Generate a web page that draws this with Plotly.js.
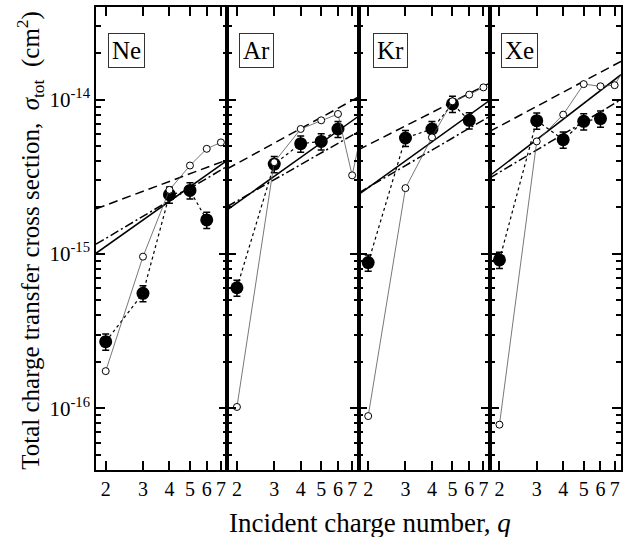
<!DOCTYPE html>
<html>
<head>
<meta charset="utf-8">
<script src="https://cdn.plot.ly/plotly-3.0.1.min.js"></script>
<style>html,body{margin:0;padding:0;background:#fff;}#chart{width:630px;height:537px;}</style>
</head>
<body>
<div id="chart"></div>
<script>
// ---- Data ----
const panels = ["Ne", "Ar", "Kr", "Xe"];
const qFilled = [2, 3, 4, 5, 6];
const qOpen = [2, 3, 4, 5, 6, 7, 8];
const qFit = [1.8, 7.5];

const neFilled = [2.70e-16, 5.56e-16, 2.42e-15, 2.58e-15, 1.66e-15];
const arFilled = [6.04e-16, 3.82e-15, 5.18e-15, 5.36e-15, 6.45e-15];
const krFilled = [8.79e-16, 5.64e-15, 6.45e-15, 9.37e-15, 7.34e-15];
const xeFilled = [9.14e-16, 7.30e-15, 5.50e-15, 7.23e-15, 7.53e-15];

const neOpen = [1.74e-16, 9.6e-16, 2.60e-15, 3.74e-15, 4.80e-15, 5.28e-15, 4.5e-15];
const arOpen = [1.02e-16, 3.93e-15, 6.45e-15, 7.34e-15, 8.07e-15, 3.23e-15, 7.6e-15];
const krOpen = [8.9e-17, 2.67e-15, 5.69e-15, 9.75e-15, 1.077e-14, 1.20e-14, null];
const xeOpen = [7.83e-17, 5.36e-15, 7.99e-15, 1.26e-14, 1.22e-14, 1.24e-14, 1.7e-14];

const neSolid = [1.01e-15, 4.04e-15], neDash = [1.96e-15, 4.07e-15], neDashDot = [1.156e-15, 3.70e-15];
const arSolid = [1.93e-15, 7.80e-15], arDash = [3.56e-15, 1.04e-14], arDashDot = [2.03e-15, 6.20e-15];
const krSolid = [2.42e-15, 9.90e-15], krDash = [4.73e-15, 1.28e-14], krDashDot = [2.48e-15, 7.80e-15];
const xeSolid = [3.21e-15, 1.45e-14], xeDash = [6.22e-15, 1.77e-14], xeDashDot = [3.10e-15, 1.00e-14];

const errPercent = 12;

const xTickVals = [2, 3, 4, 5, 6, 7];
const xTickText = ["2", "3", "4", "5", "6", "7"];
const yTickVals = [1e-16, 1e-15, 1e-14];
const yTickText = ["10<sup>-16</sup>", "10<sup>-15</sup>", "10<sup>-14</sup>"];

// ---- Build ----
const filledAll = [neFilled, arFilled, krFilled, xeFilled];
const openAll = [neOpen, arOpen, krOpen, xeOpen];
const solidAll = [neSolid, arSolid, krSolid, xeSolid];
const dashAll = [neDash, arDash, krDash, xeDash];
const dashDotAll = [neDashDot, arDashDot, krDashDot, xeDashDot];

const FONT = "Liberation Serif, Times New Roman, serif";
const xNames = ["x", "x2", "x3", "x4"];
const yNames = ["y", "y2", "y3", "y4"];
const traces = [];
panels.forEach((p, i) => {
  const xa = xNames[i], ya = yNames[i];
  traces.push({x: qFit, y: dashAll[i], xaxis: xa, yaxis: ya, mode: "lines",
    line: {color: "#000", width: 1.5, dash: "9px,5px"}, showlegend: false});
  traces.push({x: qFit, y: dashDotAll[i], xaxis: xa, yaxis: ya, mode: "lines",
    line: {color: "#000", width: 1.5, dash: "9px,3px,2px,3px"}, showlegend: false});
  traces.push({x: qFit, y: solidAll[i], xaxis: xa, yaxis: ya, mode: "lines",
    line: {color: "#000", width: 1.5}, showlegend: false});
  traces.push({x: qFilled, y: filledAll[i], xaxis: xa, yaxis: ya, mode: "lines+markers",
    line: {color: "#000", width: 1.2, dash: "dot"},
    marker: {symbol: "circle", size: 13, color: "#000"},
    error_y: {type: "percent", value: errPercent, color: "#000", thickness: 1.5, width: 3.5},
    showlegend: false});
  traces.push({x: qOpen, y: openAll[i], xaxis: xa, yaxis: ya, mode: "lines+markers",
    line: {color: "#555", width: 0.8},
    marker: {symbol: "circle", size: 7, color: "#fff", line: {color: "#000", width: 1}},
    showlegend: false, connectgaps: false});
});

const xBase = {
  type: "log", range: [Math.log10(1.8), Math.log10(7.5)],
  showline: true, linewidth: 1.5, linecolor: "#000", mirror: "ticks",
  ticks: "inside", ticklen: 9, tickwidth: 2, tickcolor: "#000",
  tickmode: "array", tickvals: xTickVals, ticktext: xTickText,
  tickfont: {family: FONT, size: 20, color: "#000"},
  showgrid: false, zeroline: false
};
const yBase = {
  type: "log", range: [-16.4, -13.4],
  showline: true, linewidth: 1.5, linecolor: "#000", mirror: "ticks",
  ticks: "inside", ticklen: 9, tickwidth: 2, tickcolor: "#000",
  tickmode: "array", tickvals: yTickVals, ticktext: yTickText,
  tickfont: {family: FONT, size: 21, color: "#000"},
  minor: {ticks: "inside", ticklen: 5, tickwidth: 1.5, tickcolor: "#000", dtick: "D1"},
  showgrid: false, zeroline: false
};
const doms = [[0, 0.25], [0.25, 0.5], [0.5, 0.75], [0.75, 1]];
const layout = {
  width: 630, height: 537,
  margin: {l: 96, r: 9, t: 7, b: 67},
  showlegend: false,
  annotations: [
    {xref: "paper", yref: "paper", x: -0.1257, y: 0.495, xanchor: "center", yanchor: "middle",
     textangle: -90, showarrow: false,
     text: "Total charge transfer cross section,  <i>σ</i><sub>tot</sub>  (cm<sup>2</sup>)",
     font: {family: FONT, size: 25, color: "#000"}},
    {xref: "paper", yref: "paper", x: 0.521, y: -0.1146, xanchor: "center", yanchor: "middle",
     showarrow: false, text: "Incident charge number, <i>q</i>",
     font: {family: FONT, size: 27, color: "#000"}}
  ]
};
const labelX = [0.059, 0.305, 0.561, 0.807];
xNames.forEach((a, i) => {
  const n = i + 1;
  layout[n === 1 ? "xaxis" : "xaxis" + n] = Object.assign({}, xBase, {domain: doms[i], anchor: yNames[i]});
  layout[n === 1 ? "yaxis" : "yaxis" + n] = Object.assign({}, yBase, {anchor: a, showticklabels: i === 0});
  layout.annotations.push({
    xref: "paper", yref: "paper", x: labelX[i], y: 0.906,
    xanchor: "center", yanchor: "middle", showarrow: false,
    text: panels[i], font: {family: FONT, size: 25, color: "#000"},
    bordercolor: "#333", borderwidth: 1, borderpad: 3, bgcolor: "#fff"
  });
});

Plotly.newPlot("chart", traces, layout, {displayModeBar: false});
</script>
</body>
</html>
